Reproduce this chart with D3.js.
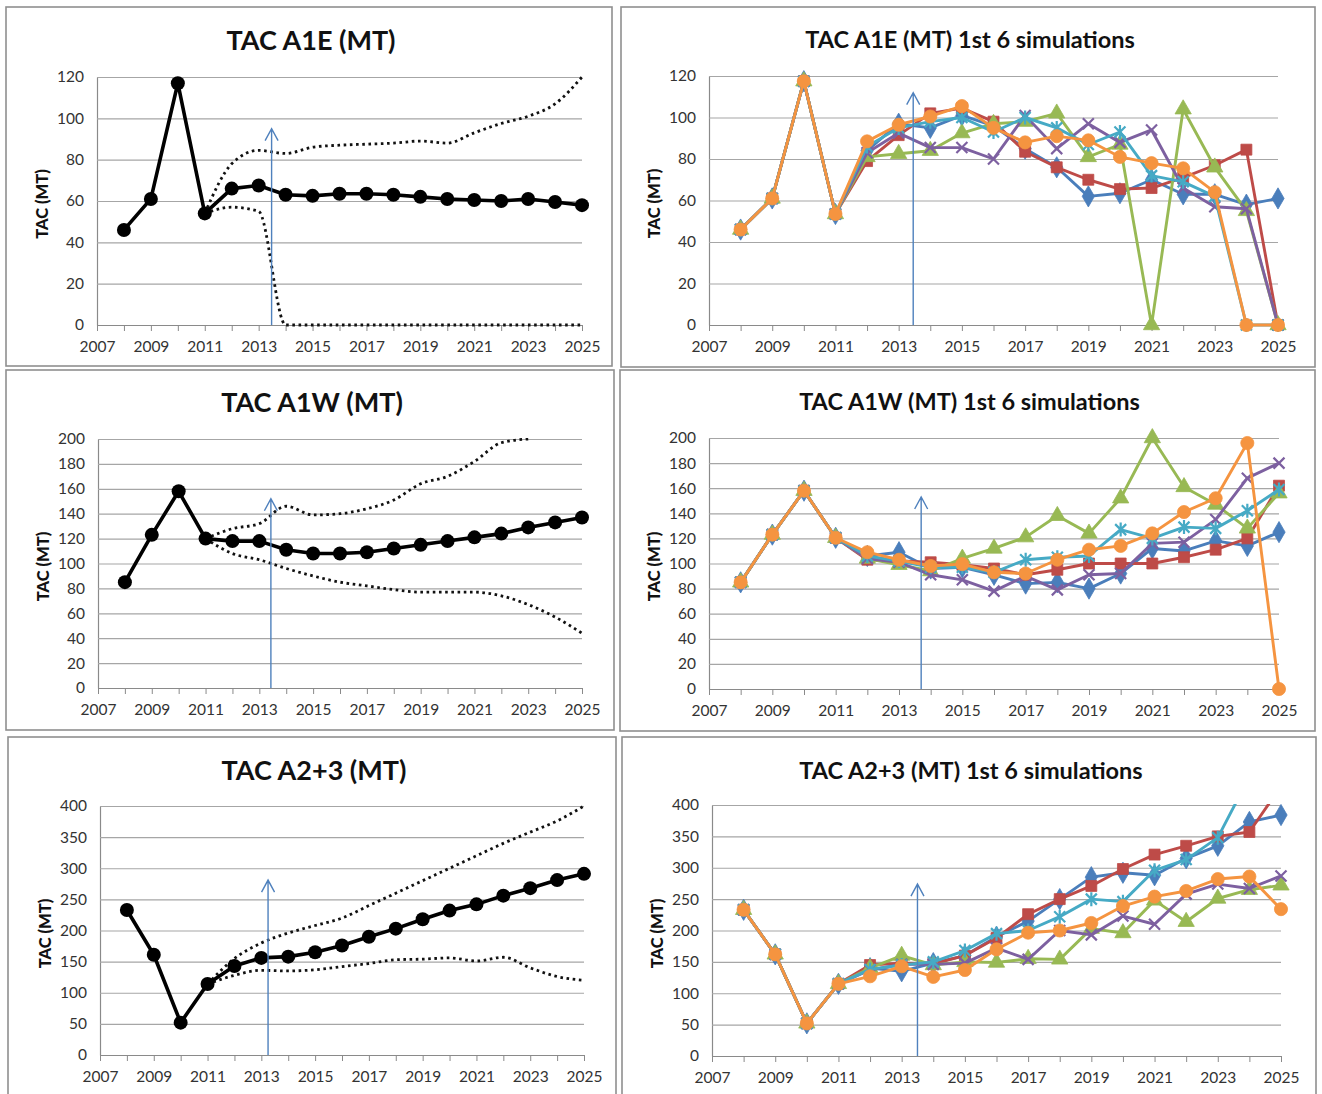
<!DOCTYPE html>
<html>
<head>
<meta charset="utf-8">
<script src="https://cdn.jsdelivr.net/npm/d3@7"></script>
<style>
  body { margin: 0; background: #fff; }
  svg { display: block; }
  text { font-family: Lato, "Open Sans", sans-serif; }
</style>
</head>
<body>
<svg id="chart" width="1322" height="1094"></svg>
<script>
// ---- data -------------------------------------------------------------
const years = d3.range(2008, 2026);
const xTickLabels = d3.range(2007, 2026, 2);
const ticksA1E = d3.range(0, 121, 20);
const ticksA1W = d3.range(0, 201, 20);
const ticksA23 = d3.range(0, 401, 50);

const simNames = ["Sim 1", "Sim 2", "Sim 3", "Sim 4", "Sim 5", "Sim 6"];

// TAC A1E: median and dotted percentile bounds
const a1eMedian = [46, 61, 117, 54, 66, 67.5, 63, 62.5, 63.5, 63.5, 63, 62, 61, 60.5, 60, 61, 59.5, 58];
const a1eUpper  = [null, null, null, 54, 78, 84.5, 83, 86, 87, 87.5, 88, 89, 88, 93, 97.5, 101, 107, 120];
const a1eLower  = [null, null, null, 54, 57, 55, 0, 0, 0, 0, 0, 0, 0, 0, 0, 0, 0, 0];

// TAC A1W
const a1wMedian = [85, 123, 158, 120, 118, 118, 111, 108, 108, 109, 112, 115, 118, 121, 124, 129, 133, 137];
const a1wUpper  = [null, null, null, 120, 128, 132, 146, 139, 140, 144, 151, 164, 170, 182, 197, 200, null, null];
const a1wLower  = [null, null, null, 120, 108, 103, 96, 90, 85, 82, 79, 77, 77, 77, 74, 67, 57, 44];

// TAC A2+3
const a23Median = [233, 161, 52, 114, 143, 156, 158, 165, 176, 190, 203, 218, 232, 242, 256, 268, 281, 291];
const a23Upper  = [null, null, null, 114, 155, 180, 196, 208, 220, 240, 260, 280, 300, 320, 340, 358, 376, 400];
const a23Lower  = [null, null, null, 114, 128, 136, 135, 137, 142, 147, 153, 154, 156, 151, 157, 140, 126, 120];

// First six simulations
const a1eSims = [
  [46, 61, 117.5, 53.5, 84, 97, 95, 101, 96, 85, 76, 62, 63.5, 70, 63, 63, 58, 61],
  [46, 61, 117.5, 53.5, 79, 91.5, 102, 104.5, 98, 83.5, 76, 70, 65.5, 66, 71, 77, 84.5, 0],
  [46, 61, 117.5, 53.5, 81, 82.5, 84, 92.5, 97, 98, 102, 81, 87, 0, 104, 76, 55, 0],
  [46, 61, 117.5, 53.5, 83, 92.5, 85.5, 85.5, 80, 101, 85, 97, 88, 94, 66, 57, 56, 0],
  [46, 61, 117.5, 53.5, 86, 95, 98, 100, 93, 100, 95, 87, 93, 72, 69, 62, 0, 0],
  [46, 61, 117.5, 53.5, 88.5, 96.5, 100.5, 105.5, 95, 88, 91, 89, 81, 78, 75.5, 64, 0, 0]
];
const a1wSims = [
  [85, 123, 158, 120.5, 106, 109, 96, 97, 91, 84, 85, 80, 92, 112, 110, 118, 114, 125],
  [85, 123, 158, 120.5, 103, 102, 101, 99, 96, 91, 95, 100, 100, 100, 105, 111, 120, 162],
  [85, 123, 158, 120.5, 104, 99, 94, 104, 112, 121, 138, 124, 152, 200, 161, 147, 128, 156],
  [85, 123, 158, 120.5, 104, 101, 91, 87, 78, 90, 79, 91, 92, 116, 117, 135, 168, 180],
  [85, 123, 158, 120.5, 106, 102, 97, 97, 93, 103, 105, 106, 127, 120, 129, 128, 142, 159],
  [85, 123, 158, 120.5, 109, 103, 98, 99.5, 93, 92, 103, 111, 114, 124, 141, 152, 196, 0]
];
const a23Sims = [
  [233, 162, 52, 115, 140, 135, 148, 160, 190, 215, 250, 285, 292, 288, 315, 335, 373, 384],
  [233, 162, 52, 115, 145, 148, 147, 160, 188, 226, 250, 271, 298, 321, 335, 350, 357, 430],
  [233, 162, 52, 115, 140, 160, 145, 150, 149, 155, 154, 203, 196, 248, 214, 251, 265, 272],
  [233, 162, 52, 115, 137, 146, 146, 148, 172, 154, 200, 193, 223, 210, 258, 274, 267, 287],
  [233, 162, 52, 115, 138, 145, 150, 168, 195, 200, 222, 250, 246, 296, 313, 348, 445, null],
  [233, 162, 52, 115, 127, 143, 126, 137, 170, 196.5, 200, 212, 239, 254, 263, 282, 286, 234]
];

// Start of the management procedure, marked with an arrow: [year, arrow tip value]
const arrowA1E = [2013.48, 95];
const arrowA1Esim = [2013.46, 112];
const arrowA1W = [2013.43, 152];
const arrowA1Wsim = [2013.7, 153];
const arrowA23 = [2013.25, 281];
const arrowA23sim = [2013.5, 274];

// ---- styles -----------------------------------------------------------
const simColors = ["#4A7EBB", "#BE4B48", "#98B954", "#7D60A0", "#46AAC5", "#F59440"];
const simMarkers = ["diamond", "square", "triangle", "x", "star", "circle"];

const panels = [
  { title: "TAC A1E (MT)", box: [6, 7, 612, 366], plot: { l: 97, r: 582, t: 77, b: 325 },
    yMax: 120, yTicks: ticksA1E, titleY: 50, titleSize: 27,
    median: a1eMedian, upper: a1eUpper, lower: a1eLower, arrow: arrowA1E },
  { title: "TAC A1E (MT) 1st 6 simulations", box: [621, 7, 1315, 367], plot: { l: 709, r: 1278, t: 76, b: 325 },
    yMax: 120, yTicks: ticksA1E, titleY: 48, titleSize: 23.5,
    sims: a1eSims, arrow: arrowA1Esim },
  { title: "TAC A1W (MT)", box: [6, 370, 614, 730], plot: { l: 98, r: 582, t: 439, b: 688 },
    yMax: 200, yTicks: ticksA1W, titleY: 412, titleSize: 27,
    median: a1wMedian, upper: a1wUpper, lower: a1wLower, arrow: arrowA1W },
  { title: "TAC A1W (MT) 1st 6 simulations", box: [620, 370, 1315, 731], plot: { l: 709, r: 1279, t: 438, b: 689 },
    yMax: 200, yTicks: ticksA1W, titleY: 410, titleSize: 23.5,
    sims: a1wSims, arrow: arrowA1Wsim },
  { title: "TAC A2+3 (MT)", box: [8, 737, 616, 1100], plot: { l: 100, r: 584, t: 806, b: 1055 },
    yMax: 400, yTicks: ticksA23, titleY: 780, titleSize: 27,
    median: a23Median, upper: a23Upper, lower: a23Lower, arrow: arrowA23 },
  { title: "TAC A2+3 (MT) 1st 6 simulations", box: [622, 737, 1316, 1100], plot: { l: 712, r: 1281, t: 805, b: 1056 },
    yMax: 400, yTicks: ticksA23, titleY: 779, titleSize: 23.5,
    sims: a23Sims, arrow: arrowA23sim }
];

const svg = d3.select("#chart");
const defs = svg.append("defs");

function markerPath(kind) {
  switch (kind) {
    case "diamond": return d3.symbol(d3.symbolDiamond, 130)();
    case "square": return d3.symbol(d3.symbolSquare, 120)();
    case "triangle": return d3.symbol(d3.symbolTriangle, 115)();
    case "circle": return d3.symbol(d3.symbolCircle, 135)();
    case "x": return "M-5.5,-5.5L5.5,5.5M-5.5,5.5L5.5,-5.5";
    case "star": return "M-5.5,-5.5L5.5,5.5M-5.5,5.5L5.5,-5.5M0,-7L0,7";
  }
}

panels.forEach((p, i) => {
  const g = svg.append("g");
  const [bx0, by0, bx1, by1] = p.box;
  g.append("rect")
    .attr("x", bx0).attr("y", by0).attr("width", bx1 - bx0).attr("height", by1 - by0)
    .attr("fill", "#fff").attr("stroke", "#8f8f8f").attr("stroke-width", 1.6);

  const x = d3.scaleLinear().domain([2007, 2025]).range([p.plot.l, p.plot.r]);
  const y = d3.scaleLinear().domain([0, p.yMax]).range([p.plot.b, p.plot.t]);

  // gridlines + y labels
  const yAxis = g.append("g").attr("transform", `translate(${p.plot.l},0)`)
    .call(d3.axisLeft(y).tickValues(p.yTicks).tickSize(-(p.plot.r - p.plot.l)).tickPadding(13).tickSizeOuter(0));
  yAxis.select(".domain").attr("stroke", "#8a8a8a").attr("stroke-width", 1.2);
  yAxis.selectAll(".tick line").attr("stroke", "#a6a6a6").attr("stroke-width", 1.2);
  yAxis.selectAll(".tick text").attr("fill", "#333").style("font-size", "15.5px");

  // x axis
  const xAxis = g.append("g").attr("transform", `translate(0,${p.plot.b})`)
    .call(d3.axisBottom(x).tickValues(d3.range(2007, 2026)).tickSize(6).tickPadding(10).tickSizeOuter(0)
      .tickFormat(d => xTickLabels.includes(d) ? String(d) : ""));
  xAxis.select(".domain").attr("stroke", "#8a8a8a").attr("stroke-width", 1.2);
  xAxis.selectAll(".tick line").attr("stroke", "#8a8a8a");
  xAxis.selectAll(".tick text").attr("fill", "#333").style("font-size", "15.5px");

  // title
  g.append("text").attr("x", (bx0 + bx1) / 2 + 2).attr("y", p.titleY)
    .attr("text-anchor", "middle").attr("font-weight", "bold")
    .style("font-size", p.titleSize + "px").attr("fill", "#111").text(p.title);

  // y axis title
  const yMid = (p.plot.t + p.plot.b) / 2 + 3;
  g.append("text").attr("transform", `translate(${p.plot.l - 49},${yMid}) rotate(-90)`)
    .attr("text-anchor", "middle").attr("font-weight", "900")
    .style("font-size", "16.5px").attr("fill", "#111").text("TAC (MT)");

  // clip for lines leaving the plot area
  const clipId = "clip" + i;
  defs.append("clipPath").attr("id", clipId).append("rect")
    .attr("x", p.plot.l).attr("y", p.plot.t - 1)
    .attr("width", p.plot.r - p.plot.l + 2).attr("height", p.plot.b - p.plot.t + 8);

  const pts = arr => years.map((yr, k) => ({ yr, v: arr[k] }));

  if (p.median) {
    const smooth = d3.line().defined(d => d.v != null)
      .x(d => x(d.yr)).y(d => y(d.v)).curve(d3.curveMonotoneX);
    [p.upper, p.lower].forEach(b => {
      g.append("path").datum(pts(b)).attr("clip-path", `url(#${clipId})`)
        .attr("fill", "none").attr("stroke", "#111").attr("stroke-width", 2.8)
        .attr("stroke-dasharray", "2.6,3.6").attr("d", smooth);
    });
    const straight = d3.line().x(d => x(d.yr)).y(d => y(d.v));
    g.append("path").datum(pts(p.median)).attr("fill", "none")
      .attr("stroke", "#000").attr("stroke-width", 3.6).attr("stroke-linejoin", "round").attr("d", straight);
    g.selectAll(null).data(pts(p.median)).join("circle")
      .attr("cx", d => x(d.yr)).attr("cy", d => y(d.v)).attr("r", 7).attr("fill", "#000");
  }

  if (p.sims) {
    const line = d3.line().defined(d => d.v != null).x(d => x(d.yr)).y(d => y(d.v));
    p.sims.forEach((s, k) => {
      const sg = g.append("g").attr("class", "sim").attr("data-name", simNames[k]);
      sg.append("path").datum(pts(s)).attr("clip-path", `url(#${clipId})`)
        .attr("fill", "none").attr("stroke", simColors[k]).attr("stroke-width", 2.9)
        .attr("stroke-linejoin", "round").attr("d", line);
      const kind = simMarkers[k];
      const stroked = kind === "x" || kind === "star";
      sg.selectAll(null).data(pts(s).filter(d => d.v != null && d.v <= p.yMax)).join("path")
        .attr("transform", d => `translate(${x(d.yr)},${y(d.v)})`)
        .attr("d", markerPath(kind))
        .attr("fill", stroked ? "none" : simColors[k])
        .attr("stroke", simColors[k]).attr("stroke-width", stroked ? 2.2 : 0.8);
    });
  }

  // arrow marking the start of projections
  const ax = x(p.arrow[0]), ay = y(p.arrow[1]);
  g.append("path")
    .attr("d", `M${ax},${p.plot.b}L${ax},${ay}M${ax - 6.5},${ay + 12}L${ax},${ay}L${ax + 6.5},${ay + 12}`)
    .attr("fill", "none").attr("stroke", "#4F81BD").attr("stroke-width", 1.4);
});
</script>
</body>
</html>
